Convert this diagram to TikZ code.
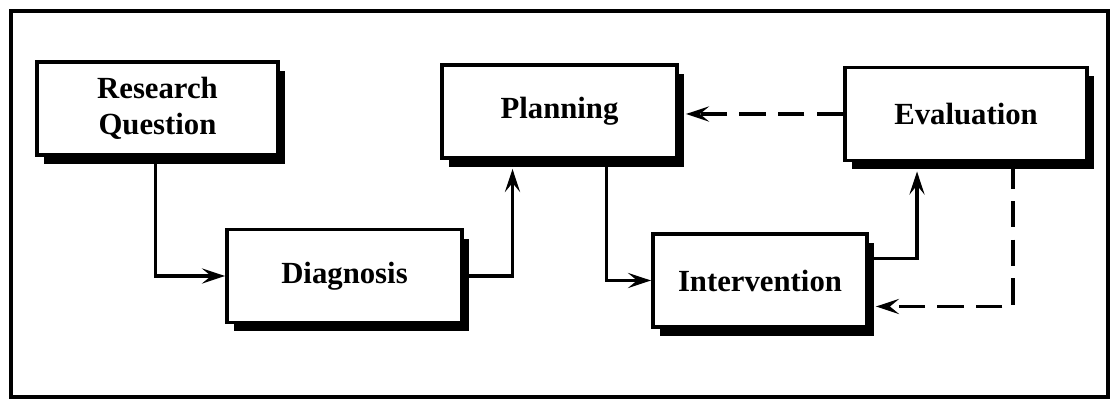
\documentclass[tikz,border=0pt]{standalone}
\usepackage{fontspec}
\setmainfont{Liberation Serif}
\usetikzlibrary{arrows.meta,calc,shadows}
\tikzset{
  stagebox/.style={
    draw=black,
    line width=2.2pt,
    fill=white,
    minimum height=1.86cm,
    align=center,
    font=\fontsize{17.5}{20.5}\selectfont\bfseries,
    drop shadow={shadow xshift=0.14cm,shadow yshift=-0.18cm,fill=black,opacity=1}
  },
  flowarrow/.style={-{Stealth[length=4.6mm,width=3mm,inset=1.8mm]},line width=2.2pt,draw=black},
  backarrow/.style={flowarrow,dash pattern=on 15pt off 7pt}
}
\begin{document}
\begin{tikzpicture}[x=0.02cm,y=-0.02cm]
  \useasboundingbox (0,0) rectangle (1112,404);
  \draw[line width=2.4pt] (11,11) rectangle (1108,397);

  \node[stagebox,minimum width=4.82cm] (question) at (157.5,108.5) {Research\\Question};
  \node[stagebox,minimum width=4.70cm] (diagnosis) at (344.5,276) {Diagnosis};
  \node[stagebox,minimum width=4.70cm] (planning) at (559.5,111.5) {Planning};
  \node[stagebox,minimum width=4.28cm] (intervention) at (760,280.5) {Intervention};
  \node[stagebox,minimum width=4.84cm] (evaluation) at (966,114) {Evaluation};

  \draw[flowarrow] ($(question.south)+(-2,0)$) |- (diagnosis.west);
  \draw[flowarrow,shorten >=0.18cm] (diagnosis.east) -| ($(planning.south)+(-47,0)$);
  \draw[flowarrow] ($(planning.south)+(47,0)$) |- (intervention.west);
  \draw[flowarrow,shorten >=0.18cm] ($(intervention.east)+(0,-22)$) -| ($(evaluation.south)+(-49,0)$);

  \draw[backarrow,shorten >=0.14cm] (evaluation.west) -- (planning.east |- evaluation.west);
  \draw[backarrow,shorten >=0.14cm] ($(evaluation.south)+(47,0)$) |- ($(intervention.east)+(0,26)$);
\end{tikzpicture}
\end{document}
